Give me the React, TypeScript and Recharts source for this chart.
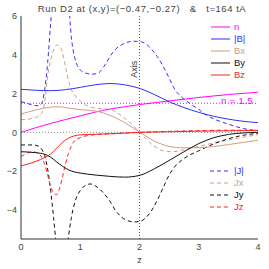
import React from 'react';
import { LineChart, Line, XAxis, YAxis, ReferenceLine, ReferenceDot } from 'recharts';

// ---------- data ----------
const titleText = 'Run D2 at (x,y)=(\u22120.47,\u22120.27)   &   t=164 tA';
const xLabel = 'z';
const axisLabel = 'Axis';
const nRefLabel = 'n = 1.5';
const nRefValue = 1.5;
const axisZ = 2;
const axisLabelY = 3.25;

const zMajorTicks = [0, 1, 2, 3, 4];
const zMinorTicks = [0.25, 0.5, 0.75, 1.25, 1.5, 1.75, 2.25, 2.5, 2.75, 3.25, 3.5, 3.75];
const yMajorTicks = [-4, -2, 0, 2, 4, 6];
const yMinorTicks = [-5.5, -5, -4.5, -3.5, -3, -2.5, -1.5, -1, -0.5, 0.5, 1, 1.5, 2.5, 3, 3.5, 4.5, 5, 5.5];

const nData: [number, number][] = [[0,0],[0.25,0.24],[0.5,0.46],[0.75,0.66],[1,0.85],[1.25,1.04],[1.5,1.2],[1.75,1.32],[2,1.43],[2.5,1.62],[3,1.8],[3.5,1.95],[4,2.07]];
const absBData: [number, number][] = [[0,2.22],[0.25,2.17],[0.5,2.15],[0.75,2.2],[1,2.32],[1.25,2.45],[1.5,2.52],[1.75,2.45],[2,2.27],[2.25,1.95],[2.5,1.58],[2.75,1.28],[3,1.03],[3.25,0.83],[3.5,0.68],[3.75,0.57],[4,0.5]];
const bxData: [number, number][] = [[0,0.95],[0.25,1.15],[0.5,1.3],[0.65,1.32],[0.8,1.25],[1,1.17],[1.25,1.1],[1.5,0.88],[1.75,0.5],[2,0.02],[2.25,-0.45],[2.5,-0.72],[2.75,-0.8],[3,-0.79],[3.25,-0.73],[3.5,-0.63],[3.75,-0.52],[4,-0.41]];
const byData: [number, number][] = [[0,-1.0],[0.25,-1.05],[0.4,-1.13],[0.5,-1.28],[0.6,-1.52],[0.7,-1.75],[0.8,-1.93],[0.9,-2.04],[1,-2.1],[1.25,-2.2],[1.5,-2.27],[1.75,-2.31],[2,-2.22],[2.25,-1.88],[2.5,-1.45],[2.75,-1.0],[3,-0.58],[3.25,-0.28],[3.5,-0.11],[3.75,-0.03],[4,0.0]];
const bzData: [number, number][] = [[0,-1.73],[0.25,-1.5],[0.4,-1.3],[0.5,-1.12],[0.6,-0.82],[0.7,-0.52],[0.8,-0.3],[0.9,-0.18],[1,-0.13],[1.25,-0.1],[1.5,-0.07],[1.75,-0.04],[2,0.0],[2.5,0.03],[3,0.06],[3.5,0.08],[4,0.1]];
const absJData: [number, number][] = [[0,1.58],[0.1,1.5],[0.2,1.4],[0.3,1.37],[0.35,1.5],[0.4,2.2],[0.45,3.6],[0.5,5.6],[0.55,7.4],[0.6,8.5],[0.65,8.9],[0.7,8.7],[0.75,8.0],[0.8,6.8],[0.85,4.9],[0.9,3.95],[0.95,3.45],[1,3.22],[1.1,3.05],[1.2,3.0],[1.3,3.05],[1.4,3.4],[1.5,3.9],[1.6,4.3],[1.7,4.52],[1.8,4.65],[1.9,4.7],[2,4.68],[2.1,4.58],[2.2,4.3],[2.3,3.9],[2.4,3.4],[2.5,2.8],[2.6,2.2],[2.7,1.85],[2.8,1.6],[2.9,1.38],[3,1.18],[3.15,0.85],[3.25,0.7],[3.5,0.42],[3.75,0.2],[4,0.08]];
const jxData: [number, number][] = [[0,0.65],[0.2,0.72],[0.3,0.85],[0.35,1.0],[0.4,1.6],[0.45,2.9],[0.5,3.75],[0.55,4.25],[0.6,4.5],[0.65,4.45],[0.7,4.1],[0.75,3.4],[0.8,2.7],[0.85,2.2],[0.9,1.95],[1,1.62],[1.1,1.4],[1.2,1.28],[1.35,1.22],[1.5,1.18],[1.6,1.05],[1.7,0.85],[1.8,0.6],[1.9,0.33],[2,0.0],[2.1,-0.3],[2.2,-0.6],[2.3,-0.82],[2.4,-0.95],[2.55,-1.0],[2.75,-0.9],[3,-0.72],[3.25,-0.55],[3.5,-0.4],[3.75,-0.25],[4,-0.12]];
const jyData: [number, number][] = [[0,-0.65],[0.2,-0.65],[0.3,-0.72],[0.35,-0.88],[0.4,-1.2],[0.45,-1.9],[0.5,-3.0],[0.55,-4.4],[0.6,-5.9],[0.65,-6.9],[0.7,-7.1],[0.75,-6.5],[0.8,-5.4],[0.85,-4.4],[0.9,-3.7],[1,-3.0],[1.1,-2.72],[1.17,-2.66],[1.25,-2.75],[1.4,-3.15],[1.5,-3.55],[1.6,-4.05],[1.7,-4.38],[1.8,-4.55],[1.9,-4.62],[2,-4.6],[2.1,-4.42],[2.2,-4.05],[2.3,-3.5],[2.4,-2.85],[2.5,-2.2],[2.6,-1.75],[2.75,-1.35],[3,-0.95],[3.25,-0.6],[3.5,-0.33],[3.75,-0.15],[4,-0.05]];
const jzData: [number, number][] = [[0,-1.25],[0.1,-1.08],[0.2,-1.0],[0.3,-1.1],[0.35,-1.3],[0.4,-1.65],[0.45,-2.2],[0.5,-2.8],[0.55,-3.12],[0.6,-3.22],[0.65,-2.9],[0.7,-2.3],[0.75,-1.65],[0.8,-1.1],[0.85,-0.7],[0.9,-0.45],[1,-0.27],[1.1,-0.18],[1.25,-0.12],[1.5,-0.08],[2,0.0],[2.5,0.05],[3,0.09],[3.5,0.11],[4,0.1]];

// ---------- styles ----------
const MAGENTA = '#ff00ff';
const BLUE = '#2f2fff';
const TAN = '#d09c84';
const BLACK = '#111111';
const RED = '#ff2020';
const AX = '#333333';
const TXT = '#444444';
const FONT = '"Liberation Sans", Arial, sans-serif';
const DASH = '4 3';

const solidSeries = [
  { label: 'n', data: nData, color: MAGENTA },
  { label: '|B|', data: absBData, color: BLUE },
  { label: 'Bx', data: bxData, color: TAN },
  { label: 'By', data: byData, color: BLACK },
  { label: 'Bz', data: bzData, color: RED },
];
const dashedSeries = [
  { label: '|J|', data: absJData, color: BLUE },
  { label: 'Jx', data: jxData, color: TAN },
  { label: 'Jy', data: jyData, color: BLACK },
  { label: 'Jz', data: jzData, color: RED },
];

const toPts = (arr: [number, number][]) => arr.map(([z, v]) => ({ z, v }));
const fmt = (v: number) => String(v).replace('-', '\u2212');

const W = 269;
const H = 269;
const Y_DOMAIN: [number, number] = [-5.5, 6];
const X_DOMAIN: [number, number] = [0, 4];

const AxisLabel = (props: any) => {
  const vb = props.viewBox || {};
  const x = (vb.x ?? 0) + (vb.width ?? 0) / 2 - 2;
  const y = (vb.y ?? 0) + (vb.height ?? 0) / 2;
  return (
    <text x={x} y={y} transform={`rotate(-90 ${x} ${y})`} textAnchor="middle" fontSize={9} fill={TXT} fontFamily={FONT}>
      {axisLabel}
    </text>
  );
};

const NRefLabel = (props: any) => {
  const vb = props.viewBox || {};
  const x = (vb.x ?? 0) + (vb.width ?? 0) - 5;
  const y = (vb.y ?? 0) + 1;
  return (
    <text x={x} y={y} textAnchor="end" fontSize={9.5} letterSpacing={0.4} fill={MAGENTA} fontFamily={FONT} style={{ whiteSpace: 'pre' }}>
      {nRefLabel}
    </text>
  );
};

export default function App() {
  const tickStyle = { fontSize: 9, fill: TXT, fontFamily: FONT };
  return (
    <div style={{ position: 'absolute', left: 0, top: 0, width: W, height: H, background: '#fff' }}>
      <LineChart width={W} height={H} margin={{ top: 16, right: 11, bottom: 0, left: 0 }}>
        <XAxis xAxisId="x" type="number" dataKey="z" domain={X_DOMAIN} ticks={zMajorTicks} allowDataOverflow
          tickLine={false} tickSize={0} tickMargin={5} height={30} axisLine={{ stroke: AX }} tick={tickStyle}
          label={{ value: xLabel, position: 'insideBottom', offset: 6, fontSize: 9, fill: TXT, fontFamily: FONT }} />
        <XAxis xAxisId="bmaj" type="number" domain={X_DOMAIN} ticks={zMajorTicks} allowDataOverflow mirror
          orientation="bottom" tick={false} tickSize={5} tickLine={{ stroke: AX }} axisLine={false} height={0} />
        <XAxis xAxisId="bmin" type="number" domain={X_DOMAIN} ticks={zMinorTicks} allowDataOverflow mirror
          orientation="bottom" tick={false} tickSize={3} tickLine={{ stroke: AX }} axisLine={false} height={0} />
        <XAxis xAxisId="tmaj" type="number" domain={X_DOMAIN} ticks={zMajorTicks} allowDataOverflow mirror
          orientation="top" tick={false} tickSize={5} tickLine={{ stroke: AX }} axisLine={{ stroke: AX }} height={0} />
        <XAxis xAxisId="tmin" type="number" domain={X_DOMAIN} ticks={zMinorTicks} allowDataOverflow mirror
          orientation="top" tick={false} tickSize={3} tickLine={{ stroke: AX }} axisLine={false} height={0} />

        <YAxis yAxisId="y" type="number" domain={Y_DOMAIN} ticks={yMajorTicks} allowDataOverflow width={21}
          tickLine={false} tickSize={0} tickMargin={4} axisLine={{ stroke: AX }} tick={tickStyle} tickFormatter={fmt} />
        <YAxis yAxisId="lmaj" type="number" domain={Y_DOMAIN} ticks={yMajorTicks} allowDataOverflow mirror
          orientation="left" tick={false} tickSize={5} tickLine={{ stroke: AX }} axisLine={false} width={0} />
        <YAxis yAxisId="lmin" type="number" domain={Y_DOMAIN} ticks={yMinorTicks} allowDataOverflow mirror
          orientation="left" tick={false} tickSize={3} tickLine={{ stroke: AX }} axisLine={false} width={0} />
        <YAxis yAxisId="rmaj" type="number" domain={Y_DOMAIN} ticks={yMajorTicks} allowDataOverflow mirror
          orientation="right" tick={false} tickSize={5} tickLine={{ stroke: AX }} axisLine={{ stroke: AX }} width={0} />
        <YAxis yAxisId="rmin" type="number" domain={Y_DOMAIN} ticks={yMinorTicks} allowDataOverflow mirror
          orientation="right" tick={false} tickSize={3} tickLine={{ stroke: AX }} axisLine={false} width={0} />

        <ReferenceLine xAxisId="x" yAxisId="y" y={0} stroke="#888" strokeDasharray="1 2" />
        <ReferenceLine xAxisId="x" yAxisId="y" y={nRefValue} stroke={MAGENTA} strokeDasharray="1 2" label={<NRefLabel />} />
        <ReferenceLine xAxisId="x" yAxisId="y" x={axisZ} stroke="#555" strokeDasharray="1 2" />
        <ReferenceDot xAxisId="x" yAxisId="y" x={axisZ} y={axisLabelY} r={0} stroke="none" fill="none" label={<AxisLabel />} />

        {dashedSeries.map((s) => (
          <Line key={s.label} xAxisId="x" yAxisId="y" data={toPts(s.data)} dataKey="v" type="monotone"
            stroke={s.color} strokeWidth={1} strokeDasharray={DASH} dot={false} activeDot={false} isAnimationActive={false} />
        ))}
        {solidSeries.map((s) => (
          <Line key={s.label} xAxisId="x" yAxisId="y" data={toPts(s.data)} dataKey="v" type="monotone"
            stroke={s.color} strokeWidth={1} dot={false} activeDot={false} isAnimationActive={false} />
        ))}
      </LineChart>
      <svg width={W} height={H} style={{ position: 'absolute', left: 0, top: 0, pointerEvents: 'none' }}>
        <text x={142} y={11.5} textAnchor="middle" fontSize={9.5} letterSpacing={0.55} fill={TXT} fontFamily={FONT} style={{ whiteSpace: 'pre' }}>
          {titleText}
        </text>
        {solidSeries.map((s, i) => (
          <g key={s.label}>
            <line x1={211} x2={230} y1={27 + 12 * i} y2={27 + 12 * i} stroke={s.color} strokeWidth={1} />
            <text x={234} y={27 + 12 * i + 3.3} fontSize={9.5} fill={s.color} fontFamily={FONT}>{s.label}</text>
          </g>
        ))}
        {dashedSeries.map((s, i) => (
          <g key={s.label}>
            <line x1={210} x2={230} y1={171 + 12 * i} y2={171 + 12 * i} stroke={s.color} strokeWidth={1} strokeDasharray={DASH} />
            <text x={234} y={171 + 12 * i + 3.3} fontSize={9.5} fill={s.color} fontFamily={FONT}>{s.label}</text>
          </g>
        ))}
      </svg>
    </div>
  );
}
